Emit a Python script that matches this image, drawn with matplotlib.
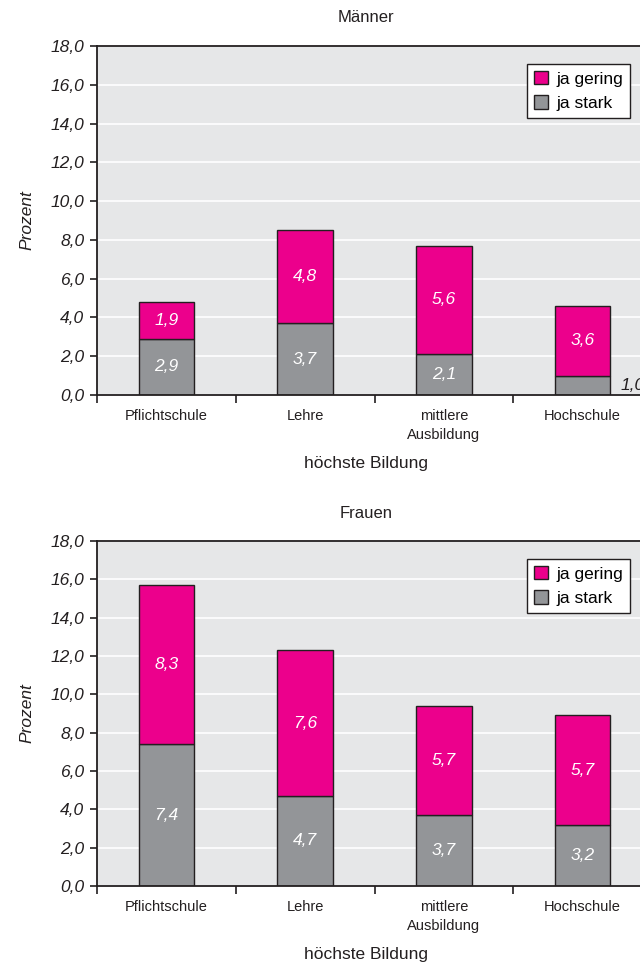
import matplotlib.pyplot as plt
import numpy as np
from matplotlib.patches import Patch
from matplotlib.ticker import FixedLocator, FuncFormatter

plt.rcParams['font.family'] = ['Liberation Sans Narrow', 'Liberation Sans', 'DejaVu Sans']

kategorien = ["Pflichtschule", "Lehre", "mittlere\nAusbildung", "Hochschule"]
maenner_stark = [2.9, 3.7, 2.1, 1.0]
maenner_gering = [1.9, 4.8, 5.6, 3.6]
frauen_stark = [7.4, 4.7, 3.7, 3.2]
frauen_gering = [8.3, 7.6, 5.7, 5.7]

PINK = "#EC008C"
GRAU = "#939598"
HINTERGRUND = "#E6E7E8"
DUNKEL = "#231F20"

fig = plt.figure(figsize=(6.4, 9.64), dpi=100)

def komma(v, pos=None):
    return f"{v:.1f}".replace(".", ",")

def panel(rect, stark, gering, aussen=()):
    ax = fig.add_axes(rect)
    ax.set_facecolor(HINTERGRUND)
    x = np.arange(len(kategorien))
    ax.set_xlim(-0.5, len(kategorien) - 0.5)
    ax.set_ylim(0, 18)
    ax.yaxis.set_major_locator(FixedLocator(np.arange(0, 18.1, 2)))
    ax.yaxis.set_major_formatter(FuncFormatter(komma))
    ax.grid(axis="y", color="white", linewidth=1.2, zorder=0)
    ax.set_axisbelow(True)

    ax.bar(x, stark, width=0.4, color=GRAU, edgecolor=DUNKEL, linewidth=1.0, zorder=2)
    ax.bar(x, gering, width=0.4, bottom=stark, color=PINK, edgecolor=DUNKEL, linewidth=1.0, zorder=2)

    for i in range(len(x)):
        if i in aussen:
            ax.text(x[i] + 0.27, stark[i] / 2, komma(stark[i]), ha="left", va="center",
                    fontsize=12.5, style="italic", color=DUNKEL, zorder=3)
        else:
            ax.text(x[i], stark[i] / 2, komma(stark[i]), ha="center", va="center",
                    fontsize=12.5, style="italic", color="white", zorder=3)
        ax.text(x[i], stark[i] + gering[i] / 2, komma(gering[i]), ha="center", va="center",
                fontsize=12.5, style="italic", color="white", zorder=3)

    # Kategorien mittig, Teilstriche an den Grenzen
    ax.set_xticks(x)
    ax.set_xticklabels(kategorien, fontsize=10.5, color=DUNKEL, linespacing=1.5)
    ax.tick_params(axis="x", which="major", length=0, pad=10)
    ax.set_xticks(np.arange(-0.5, len(kategorien), 1), minor=True)
    ax.tick_params(axis="x", which="minor", length=6, width=1.2, color=DUNKEL, direction="out")
    ax.tick_params(axis="y", length=5, width=1.2, color=DUNKEL, labelsize=12.5, pad=4)
    for lab in ax.get_yticklabels():
        lab.set_style("italic")
        lab.set_color(DUNKEL)

    for s in ["left", "bottom", "top"]:
        ax.spines[s].set_color(DUNKEL)
        ax.spines[s].set_linewidth(1.3)
    ax.spines["right"].set_visible(False)

    ax.set_ylabel("Prozent", fontsize=12.5, style="italic", color=DUNKEL, labelpad=12)
    return ax

ax1 = panel([97 / 640, 1 - 395 / 964, 555 / 640, 349 / 964],
            maenner_stark, maenner_gering, aussen=(3,))
ax2 = panel([97 / 640, 1 - 886 / 964, 555 / 640, 345 / 964],
            frauen_stark, frauen_gering)

fig.text(366 / 640, 1 - 17 / 964, "Männer", ha="center", va="center", fontsize=12, color=DUNKEL)
fig.text(366 / 640, 1 - 463 / 964, "höchste Bildung", ha="center", va="center", fontsize=12.5, color=DUNKEL)
fig.text(366 / 640, 1 - 513 / 964, "Frauen", ha="center", va="center", fontsize=12, color=DUNKEL)
fig.text(366 / 640, 1 - 954 / 964, "höchste Bildung", ha="center", va="center", fontsize=12.5, color=DUNKEL)

griffe = [Patch(facecolor=PINK, edgecolor=DUNKEL, label="ja gering"),
          Patch(facecolor=GRAU, edgecolor=DUNKEL, label="ja stark")]
for oben in (64, 559):
    lg = fig.legend(handles=griffe, loc="upper right",
                    bbox_to_anchor=(630 / 640, 1 - oben / 964), bbox_transform=fig.transFigure,
                    fontsize=12.5, frameon=True, fancybox=False, framealpha=1,
                    handlelength=0.8, handleheight=0.8, handletextpad=0.5, borderpad=0.4,
                    labelspacing=0.5, borderaxespad=0)
    lg.get_frame().set_facecolor("white")
    lg.get_frame().set_edgecolor(DUNKEL)
    lg.get_frame().set_linewidth(1.0)

fig.savefig("out.png", dpi=100)
